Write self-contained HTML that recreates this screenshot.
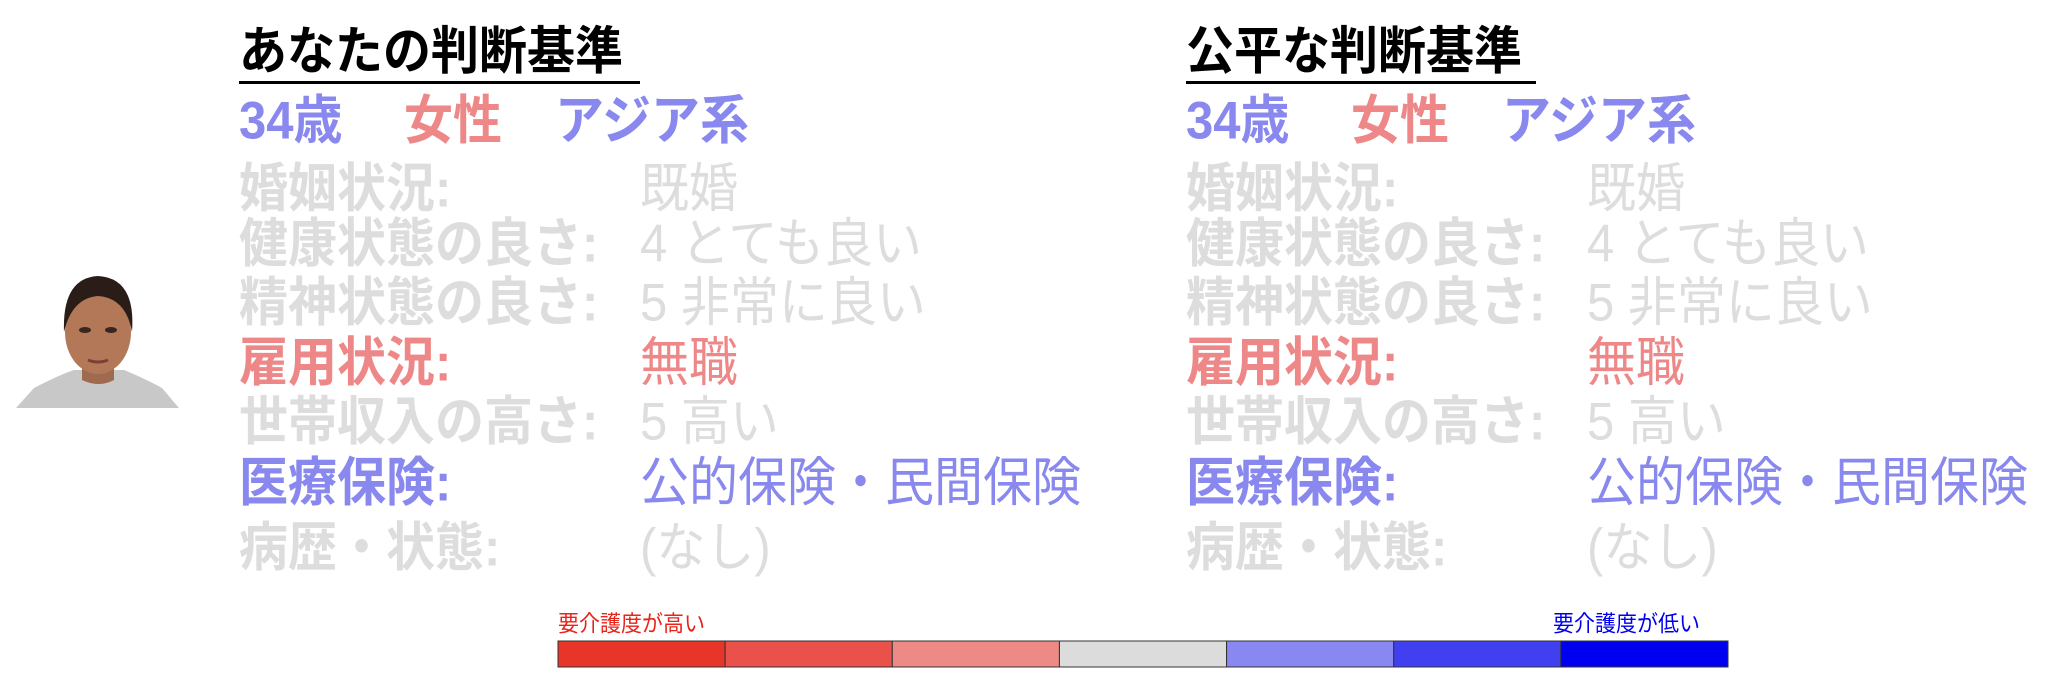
<!DOCTYPE html>
<html><head><meta charset="utf-8">
<style>
body{margin:0;width:2048px;height:675px;background:#fff;position:relative;overflow:hidden;font-family:"Liberation Sans","Noto Sans CJK JP",sans-serif;}
.t{position:absolute;white-space:nowrap;line-height:50px;font-size:49px;transform:scaleY(1.08);transform-origin:left center;}
.b{font-weight:bold;}
.g{color:#dddddd;}
.r{color:#ee8888;}
.u{color:#8888ee;}
.title{font-weight:bold;color:#000;font-size:48px;}
.ul{position:absolute;height:3px;background:#000;}
</style></head><body>
<svg style="position:absolute;left:14px;top:270px" width="168" height="140" viewBox="0 0 168 140">
<path d="M2 138 L20 118 Q45 105 60 100 L110 100 Q130 108 148 118 L165 138 Z" fill="#c8c8c8"/>
<path d="M68 95 L68 110 Q85 118 100 110 L100 95 Z" fill="#a06a4e"/>
<ellipse cx="84" cy="62" rx="33" ry="42" fill="#b27858"/>
<path d="M50 62 Q48 8 84 6 Q122 8 118 62 Q112 28 84 26 Q58 28 50 62 Z" fill="#2a1d18"/>
<ellipse cx="71" cy="60" rx="6" ry="3" fill="#3a2520"/>
<ellipse cx="97" cy="60" rx="6" ry="3" fill="#3a2520"/>
<path d="M74 90 Q84 94 94 90" stroke="#7a4035" stroke-width="3" fill="none"/>
</svg>

<div class="t title" style="left:239px;top:28px">あなたの判断基準</div>
<div class="ul" style="left:239px;top:81px;width:401px"></div>
<div class="t title" style="left:1186px;top:28px">公平な判断基準</div>
<div class="ul" style="left:1186px;top:81px;width:350px"></div>

<div id="cols"></div>

<div class="t" style="left:558px;top:613px;font-size:21px;line-height:24px;color:#e8231a">要介護度が高い</div>
<div class="t" style="left:1553px;top:613px;font-size:21px;line-height:24px;color:#0000ee">要介護度が低い</div>
<svg id="cbar" style="position:absolute;left:0;top:0" width="2048" height="675"></svg>

<script>
const barColors=["#e8352a","#ea514a","#ee8a86","#dcdcdc","#8888f0","#4040f0","#0000f0"];
const labels=["婚姻状況:","健康状態の良さ:","精神状態の良さ:","雇用状況:","世帯収入の高さ:","医療保険:","病歴・状態:"];
const values=["既婚","4 とても良い","5 非常に良い","無職","5 高い","公的保険・民間保険","(なし)"];
const rowColors=["g","g","g","r","g","u","g"];
const rowTops=[164,219,278,338,397,458,523];
const cols=[{x:239,vx:640},{x:1186,vx:1587}];
const cont=document.getElementById('cols');
function add(cls,txt,l,t,name){
  const d=document.createElement('div');
  d.className='t '+cls;d.textContent=txt;d.style.left=l+'px';d.style.top=t+'px';
  
  
  cont.appendChild(d);return d;
}
cols.forEach((c,ci)=>{
  const p=ci?'fair-':'your-';
  add('b u','34歳',c.x,96,p+'age');
  add('b r','女性',c.x+165,96,p+'gender');
  add('b u','アジア系',c.x+316,96,p+'ethnicity');
  labels.forEach((lb,i)=>{
    add('b '+rowColors[i],lb,c.x,rowTops[i],p+'label-'+i);
    add(rowColors[i],values[i],c.vx,rowTops[i],p+'value-'+i);
  });
});
const svg=document.getElementById('cbar');
const x0=558,x1=1728,y0=641,h=26,w=(x1-x0)/barColors.length;
barColors.forEach((col,i)=>{
  const r=document.createElementNS('http://www.w3.org/2000/svg','rect');
  r.setAttribute('x',x0+i*w);r.setAttribute('y',y0);r.setAttribute('width',w);r.setAttribute('height',h);
  r.setAttribute('fill',col);r.setAttribute('stroke','#333');r.setAttribute('stroke-width','1');
  
  
  svg.appendChild(r);
});
</script>
</body></html>
